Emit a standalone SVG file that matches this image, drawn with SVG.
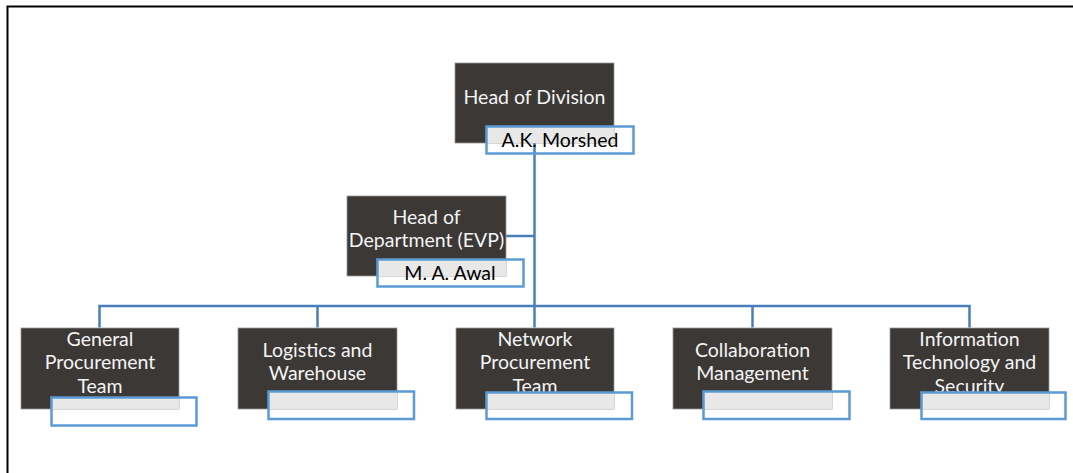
<svg xmlns="http://www.w3.org/2000/svg" width="1073" height="473" viewBox="0 0 1073 473">
<style>
.box{fill:#3b3836;stroke:#9a9896;stroke-width:0.8}
.t{font-family:Lato,"Liberation Sans",sans-serif;font-size:19.5px;fill:#f4f4f4;text-anchor:middle}
.lt{font-family:Lato,"Liberation Sans",sans-serif;font-size:19.5px;fill:#000000;text-anchor:middle}
.lf{fill:#e8e8e8}
.lb{fill:none;stroke:#5b9bd5;stroke-width:2.5}
.c{fill:none;stroke:#4a7ebb;stroke-width:2.5}
</style>
<rect width="1073" height="473" fill="#ffffff"/>
<path d="M7.5 473 V6.5 H1073" fill="none" stroke="#000" stroke-width="2"/>
<g id="connectors">
<path class="c" d="M534.5 143 V327.5"/>
<path class="c" d="M505.5 236 H534.5"/>
<path class="c" d="M99.5 327.5 V306 H969.5 V327.5"/>
<path class="c" d="M317.5 306 V327.5"/>
<path class="c" d="M752.5 306 V327.5"/>
</g>
<g id="head-division">
<rect class="box" x="455" y="63" width="159" height="80"/>
<text class="t" x="534.5" y="104">Head of Division</text>
<rect class="lf" x="487" y="127" width="127" height="16"/>
<rect class="lb" x="486.5" y="126.5" width="147" height="27"/>
<text class="lt" x="560" y="147">A.K. Morshed</text>
</g>
<g id="head-department">
<rect class="box" x="347" y="196" width="159" height="80"/>
<text class="t" x="426.5" y="224">Head of</text>
<text class="t" x="426.5" y="247">Department (EVP)</text>
<rect class="lf" x="378" y="260" width="128" height="16"/>
<rect class="lb" x="377.5" y="259.5" width="146" height="27"/>
<text class="lt" x="450" y="280">M. A. Awal</text>
</g>
<g id="general-procurement">
<rect class="box" x="21" y="328" width="158" height="81"/>
<text class="t" x="100" y="346">General</text>
<text class="t" x="100" y="369">Procurement</text>
<text class="t" x="100" y="393">Team</text>
<rect class="lf" x="52" y="398" width="127" height="11"/>
<rect class="lb" x="51.5" y="397.5" width="145" height="28"/>
</g>
<g id="logistics">
<rect class="box" x="238" y="328" width="159" height="81"/>
<text class="t" x="317.5" y="357">Logistics and</text>
<text class="t" x="317.5" y="380">Warehouse</text>
<rect class="lf" x="269" y="392" width="128" height="17"/>
<rect class="lb" x="268.5" y="391.5" width="145.5" height="27.5"/>
</g>
<g id="network-procurement">
<rect class="box" x="456" y="328" width="158" height="81"/>
<text class="t" x="535" y="346">Network</text>
<text class="t" x="535" y="369">Procurement</text>
<text class="t" x="535" y="393">Team</text>
<rect class="lf" x="487" y="393" width="127" height="16"/>
<rect class="lb" x="486.5" y="392.5" width="145.5" height="26.5"/>
</g>
<g id="collaboration">
<rect class="box" x="673" y="328" width="159" height="81"/>
<text class="t" x="752.5" y="357">Collaboration</text>
<text class="t" x="752.5" y="380">Management</text>
<rect class="lf" x="704" y="392" width="128" height="17"/>
<rect class="lb" x="703.5" y="391.5" width="146" height="27.5"/>
</g>
<g id="it-security">
<rect class="box" x="890" y="328" width="159" height="81"/>
<text class="t" x="969.5" y="346">Information</text>
<text class="t" x="969.5" y="369">Technology and</text>
<text class="t" x="969.5" y="393">Security</text>
<rect class="lf" x="922" y="393" width="127" height="16"/>
<rect class="lb" x="921.5" y="392.5" width="144" height="26.5"/>
</g>
</svg>
